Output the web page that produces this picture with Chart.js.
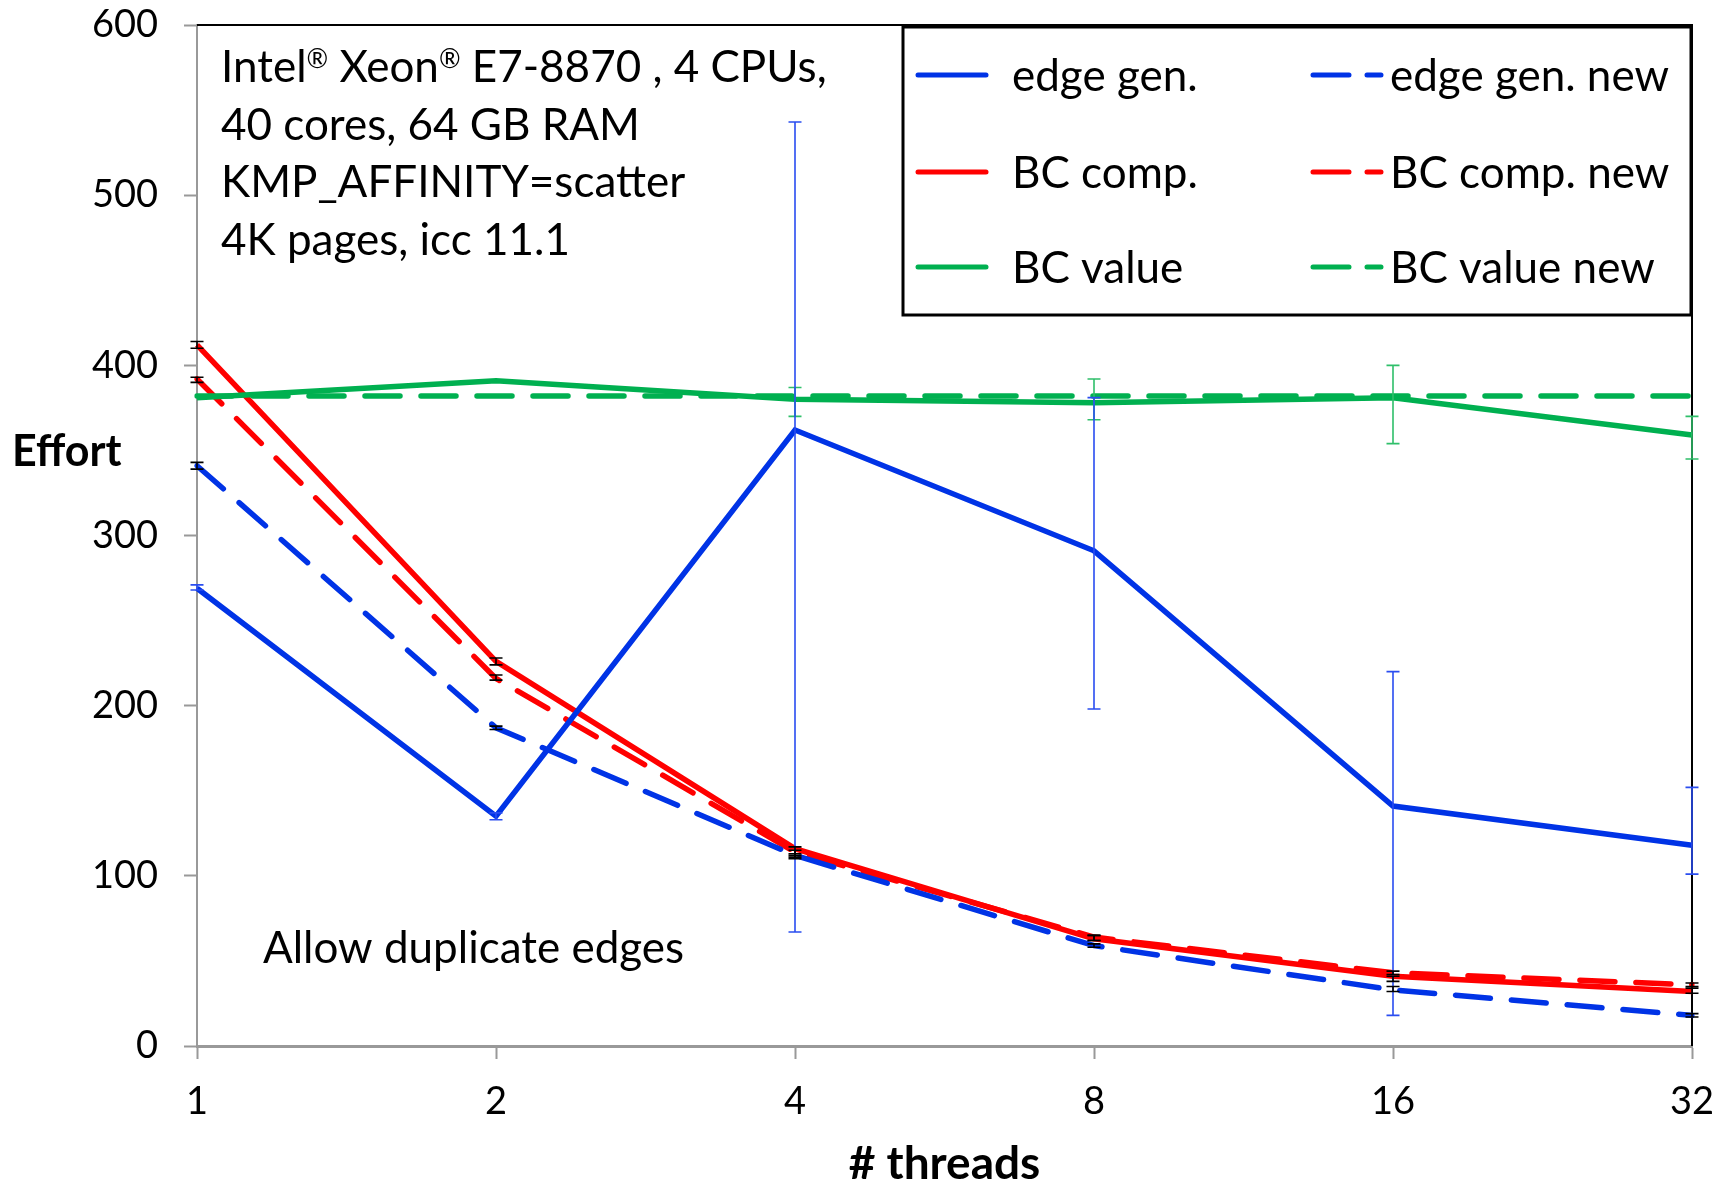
<!DOCTYPE html>
<html>
<head>
<meta charset="utf-8">
<script src="https://cdn.jsdelivr.net/npm/chart.js@4.4.0/dist/chart.umd.min.js"></script>
<style>
  html, body { margin: 0; padding: 0; background: #fff; }
  #wrap { width: 1728px; height: 1185px; position: relative; }
</style>
</head>
<body>
<div id="wrap"><canvas id="myChart"></canvas></div>
<script>
// x categories (number of threads)
const threads = ['1', '2', '4', '8', '16', '32'];

// series values
const edgeGen    = [269, 135, 362, 291, 141, 118];
const edgeGenNew = [341, 187, 112, 59, 33, 18];
const bcComp     = [412, 226, 116, 63, 41, 32];
const bcCompNew  = [392, 216, 114, 64, 43, 36];
const bcValue    = [381, 391, 380, 378, 381, 359];
const bcValueNew = [382, 382, 382, 382, 382, 382];

// error bars: low and high ends (null = none)
const edgeGenLow     = [268, 133, 67, 198, 18, 101];
const edgeGenHigh    = [271, 137, 543, 381, 220, 152];
const edgeGenNewLow  = [339, 186, 110, 58, 32, 17];
const edgeGenNewHigh = [343, 188, 113, 60, 35, 19];
const bcCompLow      = [410, 224, 111, 62, 38, 31];
const bcCompHigh     = [414, 228, 117, 65, 41, 34];
const bcCompNewLow   = [390, 215, 112, 62, 42, 35];
const bcCompNewHigh  = [393, 218, 115, 65, 44, 37];
const bcValueLow     = [null, null, 370, 368, 354, 345];
const bcValueHigh    = [null, null, 387, 392, 400, 370];

// text in the plot ('^' marks a superscript piece)
const infoLines = [
    ['Intel', '^\u00AE', ' Xeon', '^\u00AE', ' E7-8870 , 4 CPUs,'],
    ['40 cores, 64 GB RAM'],
    ['KMP_AFFINITY=scatter'],
    ['4K pages, icc 11.1']
];
const noteText = 'Allow duplicate edges';
const yTitle = 'Effort';
const xTitle = '# threads';

const BLUE = '#0033e6';
const RED = '#ff0000';
const GREEN = '#00b050';
const FONT = 'Lato';
const DASH = [35, 21];

// draws error bars from errLow / errHigh on each dataset
const errorBars = {
    id: 'errorBars',
    afterDatasetsDraw(chart) {
        const ctx = chart.ctx;
        const xs = chart.scales.x, ys = chart.scales.y;
        chart.data.datasets.forEach(ds => {
            if (!ds.errLow) return;
            ctx.save();
            ctx.strokeStyle = ds.errColor;
            ctx.lineWidth = 1.6;
            ds.errLow.forEach((lo, i) => {
                const hi = ds.errHigh[i];
                if (lo === null || hi === null) return;
                const x = xs.getPixelForValue(i);
                const y1 = ys.getPixelForValue(lo), y2 = ys.getPixelForValue(hi);
                ctx.beginPath();
                ctx.moveTo(x, y1); ctx.lineTo(x, y2);
                ctx.moveTo(x - 6.5, y1); ctx.lineTo(x + 6.5, y1);
                ctx.moveTo(x - 6.5, y2); ctx.lineTo(x + 6.5, y2);
                ctx.stroke();
            });
            ctx.restore();
        });
    }
};

// plot frame, annotations, y title and boxed legend
const decorations = {
    id: 'decorations',
    beforeDatasetsDraw(chart) {
        const ctx = chart.ctx, a = chart.chartArea;
        ctx.save();
        ctx.strokeStyle = '#000';
        ctx.lineWidth = 2;
        ctx.beginPath();
        ctx.moveTo(a.left, a.top); ctx.lineTo(a.right, a.top); ctx.lineTo(a.right, a.bottom);
        ctx.stroke();
        ctx.restore();
    },
    afterDraw(chart) {
        const ctx = chart.ctx, a = chart.chartArea;
        ctx.save();
        ctx.fillStyle = '#000';
        ctx.textBaseline = 'alphabetic';
        ctx.textAlign = 'left';

        // info block
        infoLines.forEach((parts, i) => {
            let x = a.left + 24;
            const y = 82 + i * 57.5;
            parts.forEach(p => {
                if (p[0] === '^') {
                    ctx.font = '26px ' + FONT;
                    ctx.fillText(p.slice(1), x, y - 14);
                    x += ctx.measureText(p.slice(1)).width;
                } else {
                    ctx.font = '44px ' + FONT;
                    ctx.fillText(p, x, y);
                    x += ctx.measureText(p).width;
                }
            });
        });
        ctx.font = '44px ' + FONT;
        ctx.fillText(noteText, a.left + 66, 963);

        // y title
        ctx.font = 'bold 43px ' + FONT;
        ctx.textBaseline = 'middle';
        ctx.fillText(yTitle, 12, 452);

        // legend box
        const box = { left: 903, top: 27, right: 1691, bottom: 315 };
        ctx.fillStyle = '#fff';
        ctx.fillRect(box.left, box.top, box.right - box.left, box.bottom - box.top);
        ctx.strokeStyle = '#000';
        ctx.lineWidth = 3;
        ctx.strokeRect(box.left, box.top, box.right - box.left, box.bottom - box.top);

        ctx.beginPath();
        ctx.rect(box.left, box.top, box.right - box.left - 16, box.bottom - box.top);
        ctx.clip();

        const rows = [75, 172, 267];
        const cols = [{ x0: 918, tx: 1012 }, { x0: 1313, tx: 1390 }];
        chart.data.datasets.forEach(ds => {
            const r = rows[ds.legendRow], c = cols[ds.legendCol];
            ctx.strokeStyle = ds.borderColor;
            ctx.lineWidth = 5;
            ctx.lineCap = 'round';
            ctx.setLineDash(ds.borderDash && ds.borderDash.length ? [36, 18] : []);
            ctx.beginPath();
            ctx.moveTo(c.x0, r); ctx.lineTo(c.x0 + 68, r);
            ctx.stroke();
            ctx.setLineDash([]);
            ctx.fillStyle = '#000';
            ctx.font = '44px ' + FONT;
            ctx.textBaseline = 'middle';
            ctx.fillText(ds.label, c.tx, r + 2);
        });
        ctx.restore();
    }
};

function series(label, data, color, dashed, low, high, errColor, row, col) {
    return {
        label: label,
        data: data,
        borderColor: color,
        backgroundColor: color,
        borderWidth: 5.5,
        borderDash: dashed ? DASH : [],
        borderCapStyle: dashed ? 'round' : 'butt',
        pointRadius: 0,
        pointHoverRadius: 0,
        tension: 0,
        fill: false,
        errLow: low,
        errHigh: high,
        errColor: errColor,
        legendRow: row,
        legendCol: col
    };
}

const ctx = document.getElementById('myChart').getContext('2d');
new Chart(ctx, {
    type: 'line',
    data: {
        labels: threads,
        datasets: [
            series('BC value', bcValue, GREEN, false, bcValueLow, bcValueHigh, '#2fbf6a', 2, 0),
            series('BC value new', bcValueNew, GREEN, true, null, null, null, 2, 1),
            series('edge gen.', edgeGen, BLUE, false, edgeGenLow, edgeGenHigh, '#2a4df0', 0, 0),
            series('edge gen. new', edgeGenNew, BLUE, true, edgeGenNewLow, edgeGenNewHigh, '#000', 0, 1),
            series('BC comp.', bcComp, RED, false, bcCompLow, bcCompHigh, '#000', 1, 0),
            series('BC comp. new', bcCompNew, RED, true, bcCompNewLow, bcCompNewHigh, '#000', 1, 1)
        ]
    },
    options: {
        responsive: true,
        maintainAspectRatio: false,
        animation: false,
        layout: { padding: { left: 0, top: 25, right: 36, bottom: 0 } },
        plugins: {
            legend: { display: false },
            tooltip: { enabled: false }
        },
        scales: {
            x: {
                offset: false,
                afterFit: s => { s.height = 139; s.paddingLeft = 0; s.paddingRight = 0; },
                grid: { drawOnChartArea: false, tickLength: 13, tickWidth: 2, tickColor: '#999' },
                border: { color: '#999', width: 3 },
                ticks: { color: '#000', font: { family: FONT, size: 38 }, padding: 20, maxRotation: 0 },
                title: { display: true, text: xTitle, color: '#000', font: { family: FONT, size: 46, weight: 'bold' }, padding: { top: 0, bottom: -7 } }
            },
            y: {
                min: 0,
                max: 600,
                afterFit: s => { s.width = 197; s.paddingTop = 0; s.paddingBottom = 0; },
                grid: { drawOnChartArea: false, tickLength: 13, tickWidth: 2, tickColor: '#999' },
                border: { color: '#999', width: 2 },
                ticks: { stepSize: 100, color: '#000', font: { family: FONT, size: 38 }, padding: 26 }
            }
        }
    },
    plugins: [errorBars, decorations]
});
</script>
</body>
</html>
